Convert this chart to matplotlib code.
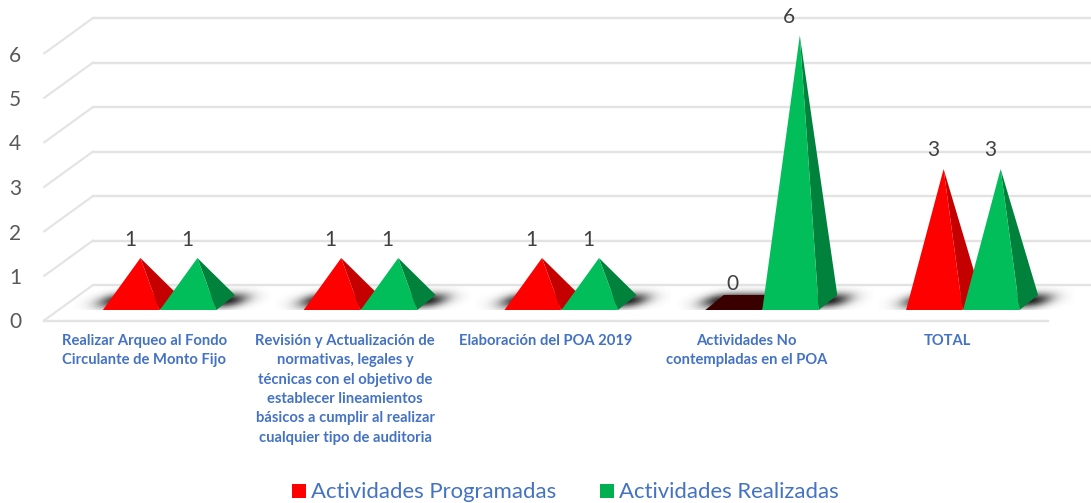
import numpy as np
import matplotlib
matplotlib.use("Agg")
import matplotlib.pyplot as plt
from matplotlib.patches import Polygon, Patch

categories = [
    "Realizar Arqueo al Fondo\nCirculante de Monto Fijo",
    "Revisión y Actualización de\nnormativas, legales y\ntécnicas con el objetivo de\nestablecer lineamientos\nbásicos a cumplir al realizar\ncualquier tipo de auditoria",
    "Elaboración del POA 2019",
    "Actividades No\ncontempladas en el POA",
    "TOTAL",
]
programadas = [1, 1, 1, 0, 3]
realizadas = [1, 1, 1, 6, 3]
yticks = [0, 1, 2, 3, 4, 5, 6]
series_names = ["Actividades Programadas", "Actividades Realizadas"]

plt.rcParams["font.family"] = ["Lato", "DejaVu Sans"]
W, H = 1091, 503
fig = plt.figure(figsize=(W / 100, H / 100), dpi=100)
LEFT, RIGHT, Y0, Y6 = 44, 1048, 320.5, 53.5
ax = fig.add_axes([LEFT / W, 1 - Y0 / H, (RIGHT - LEFT) / W, (Y0 - Y6) / H])
PX = (RIGHT - LEFT) / 5
PY = (Y0 - Y6) / 6
for s in ax.spines.values():
    s.set_visible(False)
ax.set_facecolor("none")


def dx(p):
    return p / PX


def dy(p):
    return p / PY


# walls and floor
GRID = "#E3E3E3"
for v in yticks:
    bx = -0.5 + dx(49)
    by = v + dy(35.5)
    ax.plot([-0.5, bx], [v, by], color=GRID, lw=1.5, clip_on=False, zorder=1, solid_capstyle="round")
    ax.plot([bx, -0.5 + dx(1047)], [by, by], color=GRID, lw=1.7, clip_on=False, zorder=1)
ax.plot([-0.5, 4.5], [0, 0], color=GRID, lw=1.7, clip_on=False, zorder=1)

FRONT_V = dy(Y0 - 310)

# floor shadows
us = np.linspace(-70, 125, 200)
ws = np.linspace(0, 24, 40)
U, Wg = np.meshgrid(us, ws)
Us = U - 1.0 * Wg
sx = (1 / (1 + np.exp(-(Us + 50) / 6))) * (1 / (1 + np.exp((Us - 88) / 6)))
sy = np.exp(-((Wg - 9.5) / 7.5) ** 2)
rgba = np.zeros(U.shape + (4,))
rgba[..., 3] = np.clip(0.95 * sx * sy, 0, 1)
for i in range(len(categories)):
    ax.imshow(rgba, extent=[i + dx(-70), i + dx(125), FRONT_V, FRONT_V + dy(24)],
              origin="lower", aspect="auto", zorder=2, clip_on=False, interpolation="bilinear")
ax.set_xlim(-0.5, 4.5)
ax.set_ylim(0, 6)

# pyramids
BASE_W = 56.5
DEPTH_X, DEPTH_Y = 18.5, 15
styles = [("#FF0000", "#C40000", "#3A0000", -41.5), ("#02BE5A", "#00823D", "#003A1A", 15.5)]
for values, (front, side, flat, off) in zip([programadas, realizadas], styles):
    for i, v in enumerate(values):
        l = i + dx(off)
        r = l + dx(BASE_W)
        rb = r + dx(DEPTH_X)
        lb = l + dx(DEPTH_X)
        top = FRONT_V + dy(DEPTH_Y)
        if v == 0:
            ax.add_patch(Polygon([(l, FRONT_V), (r, FRONT_V), (rb, top), (lb, top)], closed=True,
                                 fc=flat, ec="none", zorder=3, clip_on=False))
        else:
            apex = ((l + rb) / 2, (FRONT_V + top) / 2 + v)
            ax.add_patch(Polygon([(r, FRONT_V), (rb, top), apex], closed=True, fc=side, ec="none",
                                 zorder=3, clip_on=False))
            ax.add_patch(Polygon([(l, FRONT_V), (r, FRONT_V), apex], closed=True, fc=front, ec="none",
                                 zorder=3, clip_on=False))
        ax.text(l + dx(27), v + dy(Y0 - 284), str(v), ha="center", va="center", fontsize=15,
                color="#404040", zorder=5, clip_on=False)

# axes text
ax.set_yticks(yticks)
ax.set_yticklabels([str(v) for v in yticks], fontsize=15, color="#595959")
ax.tick_params(axis="y", length=0, pad=16.5)
ax.set_xticks(range(len(categories)))
ax.set_xticklabels(categories, fontsize=10.6, fontweight="bold", color="#4472C4", linespacing=1.495, va="top")
ax.tick_params(axis="x", length=0, pad=9.5)

handles = [Patch(fc="#FF0000", ec="none"), Patch(fc="#00B050", ec="none")]
fig.legend(handles, series_names, ncol=2, frameon=False, loc="center",
           bbox_to_anchor=(565.5 / W, 1 - 492.5 / H), fontsize=15.9, labelcolor="#4472C4",
           handlelength=0.63, handleheight=0.63, handletextpad=0.23, columnspacing=1.95,
           borderpad=0, borderaxespad=0)

fig.savefig("out.png", dpi=100, facecolor="white")
